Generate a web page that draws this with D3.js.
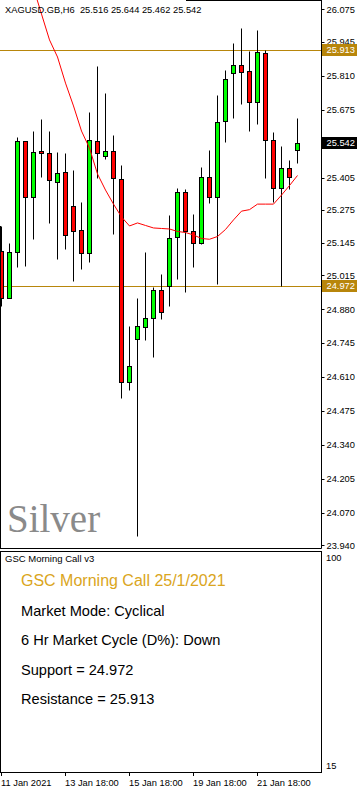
<!DOCTYPE html>
<html><head><meta charset="utf-8">
<script src="https://cdn.jsdelivr.net/npm/d3@7"></script>
<style>html,body{margin:0;padding:0;background:#fff;}svg{display:block;}</style>
</head><body>
<svg id="c" width="360" height="791"></svg>
<script>
// ---- data (XAGUSD.GB, H6) ----
const symbolTitle = "XAGUSD.GB,H6  25.516 25.644 25.462 25.542";
const openP  = [25.112,24.924,25.110,25.549,25.326,25.510,25.501,25.388,25.426,25.290,25.196,25.103,25.549,25.489,25.509,25.398,24.591,24.763,24.810,24.844,24.955,24.971,25.167,25.346,25.191,25.143,25.406,25.329,25.629,25.820,25.852,25.828,25.705,25.900,25.553,25.362,25.442,25.516];
const highP  = [25.212,25.143,25.567,25.552,25.590,25.638,25.590,25.505,25.501,25.435,25.308,25.665,25.848,25.742,25.573,25.455,24.813,24.924,25.107,24.970,25.020,25.255,25.362,25.358,25.259,25.447,25.514,25.734,25.833,25.941,25.999,25.909,25.991,25.913,25.585,25.532,25.473,25.644];
const lowP   = [24.893,24.924,25.047,25.053,25.161,25.408,25.225,25.081,25.119,24.994,25.039,25.067,25.404,25.477,25.179,24.528,24.558,23.978,24.757,24.691,24.841,24.894,25.002,24.950,25.050,25.139,25.302,24.981,25.548,25.643,25.697,25.591,25.619,25.404,25.308,24.972,25.360,25.462];
const closeP = [24.924,25.107,25.549,25.326,25.505,25.501,25.394,25.423,25.175,25.191,25.103,25.553,25.501,25.509,25.402,24.591,24.654,24.812,24.844,24.955,24.868,25.163,25.346,25.191,25.143,25.406,25.326,25.625,25.796,25.852,25.824,25.705,25.904,25.553,25.364,25.442,25.406,25.542];
const maP    = [null,null,null,null,26.160,26.056,25.953,25.885,25.781,25.690,25.590,25.522,25.419,25.355,25.299,25.248,25.212,25.224,25.214,25.204,25.202,25.200,25.190,25.186,25.176,25.162,25.159,25.170,25.198,25.236,25.271,25.277,25.299,25.299,25.299,25.335,25.373,25.413];
const priceTicks = ["26.075","25.945","25.810","25.675","25.405","25.275","25.145","25.015","24.880","24.745","24.610","24.475","24.340","24.205","24.070","23.940"];
const supportLevel = 24.972;
const resistanceLevel = 25.913;
const lastPrice = 25.542;
const xTickBars = [0,8,16,24,32];
const xTickLabels = ["11 Jan 2021","13 Jan 18:00","15 Jan 18:00","19 Jan 18:00","21 Jan 18:00"];
const indTicks = ["100","15"];
const watermark = "Silver";
const panelTitle = "GSC Morning Call v3";
const callTitle = "GSC Morning Call 25/1/2021";
const callLines = ["Market Mode: Cyclical","6 Hr Market Cycle (D%): Down","Support = 24.972","Resistance = 25.913"];

// ---- layout ----
const svg = d3.select("#c");
const FONT = "'Liberation Sans', Arial, sans-serif";
const axisX = 321.5, mainBot = 548.5, indTop = 551.5, indBot = 772.5;
const GOLD = "#B8860B";
const y = d3.scaleLinear().domain([23.940, 26.075]).range([545.3, 9.3]);
const x = d3.scaleLinear().domain([0, 37]).range([1.5, 297.5]);
const cy = v => Math.round(y(v)) + 0.5;

svg.append("defs").append("clipPath").attr("id","mainclip")
  .append("rect").attr("x",0).attr("y",0).attr("width",321).attr("height",548);

// watermark
svg.append("text").attr("x",7).attr("y",532).text(watermark)
  .attr("font-family","'Liberation Serif','Times New Roman',serif")
  .attr("font-size",39).attr("fill","#8a8a8a");

const plot = svg.append("g").attr("clip-path","url(#mainclip)");

// support / resistance
[supportLevel, resistanceLevel].forEach(v => {
  plot.append("line").attr("x1",0).attr("x2",321).attr("y1",cy(v)).attr("y2",cy(v))
    .attr("stroke",GOLD).attr("stroke-width",1);
});

// candles
const idx = d3.range(openP.length);
const cg = plot.append("g");
cg.selectAll("line.w").data(idx).join("line").attr("class","w")
  .attr("x1",i=>x(i)).attr("x2",i=>x(i))
  .attr("y1",i=>cy(highP[i])).attr("y2",i=>cy(lowP[i]))
  .attr("stroke","#000").attr("stroke-width",1);
cg.selectAll("rect.b").data(idx).join("rect").attr("class","b")
  .attr("x",i=>x(i)-2).attr("width",4)
  .attr("y",i=>cy(Math.max(openP[i],closeP[i])))
  .attr("height",i=>Math.max(1, cy(Math.min(openP[i],closeP[i])) - cy(Math.max(openP[i],closeP[i]))))
  .attr("fill",i=>closeP[i]>=openP[i] ? "#00ff00" : "#ff0000")
  .attr("stroke","#000").attr("stroke-width",1);

// moving average
const ma = d3.line().defined(d=>d[1]!=null).x(d=>x(d[0])).y(d=>y(d[1]));
plot.append("path").datum(maP.map((v,i)=>[i,v])).attr("d",ma)
  .attr("fill","none").attr("stroke","#ff0000").attr("stroke-width",1);

// header
svg.append("text").attr("x",5).attr("y",12.5).text(symbolTitle)
  .attr("font-family",FONT).attr("font-size",9.3).attr("fill","#000").attr("xml:space","preserve")
  .style("white-space","pre");

// frames
const fr = svg.append("g").attr("stroke","#000").attr("stroke-width",1);
fr.append("line").attr("x1",186).attr("x2",axisX).attr("y1",0.5).attr("y2",0.5);
fr.append("line").attr("x1",0.5).attr("x2",0.5).attr("y1",226).attr("y2",mainBot);
fr.append("line").attr("x1",0).attr("x2",axisX).attr("y1",mainBot).attr("y2",mainBot);
fr.append("line").attr("x1",axisX).attr("x2",axisX).attr("y1",0).attr("y2",mainBot);
fr.append("rect").attr("x",0.5).attr("y",indTop).attr("width",axisX-0.5).attr("height",indBot-indTop).attr("fill","none");

// price axis
const ya = svg.append("g");
priceTicks.forEach(t => {
  const v = +t;
  ya.append("line").attr("x1",322).attr("x2",324.5).attr("y1",cy(v)).attr("y2",cy(v)).attr("stroke","#000");
  ya.append("text").attr("x",326.5).attr("y",y(v)).attr("dy","0.35em").text(t)
    .attr("font-family",FONT).attr("font-size",9.3).attr("fill","#000");
});
[[resistanceLevel,GOLD],[supportLevel,GOLD],[lastPrice,"#000"]].forEach(([v,c]) => {
  ya.append("rect").attr("x",322).attr("y",Math.round(y(v))-6).attr("width",35).attr("height",12).attr("fill",c);
  ya.append("text").attr("x",326.5).attr("y",y(v)).attr("dy","0.35em").text(v.toFixed(3))
    .attr("font-family",FONT).attr("font-size",9.3).attr("fill","#fff");
});

// indicator panel
svg.append("text").attr("x",5).attr("y",562).text(panelTitle)
  .attr("font-family",FONT).attr("font-size",9.5).attr("fill","#000");
svg.append("text").attr("x",326).attr("y",557.3).attr("dy","0.35em").text(indTicks[0])
  .attr("font-family",FONT).attr("font-size",9.3).attr("fill","#000");
svg.append("text").attr("x",326).attr("y",765.7).attr("dy","0.35em").text(indTicks[1])
  .attr("font-family",FONT).attr("font-size",9.3).attr("fill","#000");
svg.append("text").attr("x",21).attr("y",585.5).text(callTitle)
  .attr("font-family",FONT).attr("font-size",16).attr("fill","#DAA520");
callLines.forEach((s,i) => {
  svg.append("text").attr("x",21).attr("y",615.7 + i*29.5).text(s)
    .attr("font-family",FONT).attr("font-size",14.6).attr("fill","#000");
});

// time axis
xTickBars.forEach((b,i) => {
  svg.append("line").attr("x1",x(b)).attr("x2",x(b)).attr("y1",indBot).attr("y2",776).attr("stroke","#000");
  svg.append("text").attr("x",x(b)-0.5).attr("y",785.5).text(xTickLabels[i])
    .attr("font-family",FONT).attr("font-size",9.3).attr("fill","#000");
});
</script>
</body></html>
